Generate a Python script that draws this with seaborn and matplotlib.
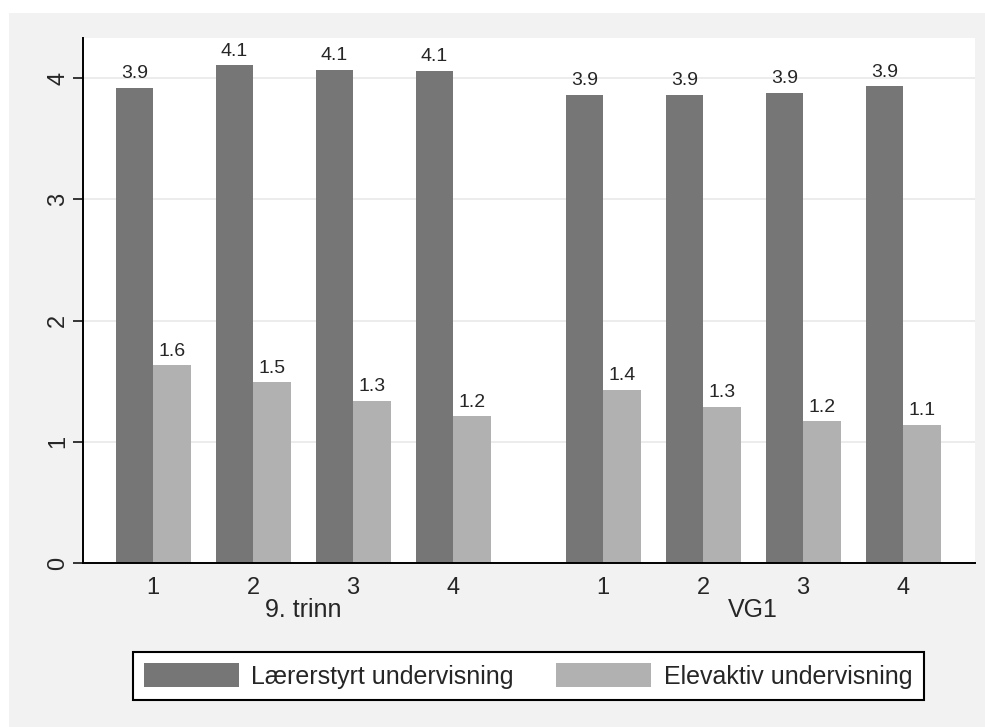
import numpy as np
import pandas as pd
import matplotlib
matplotlib.use('Agg')
import matplotlib.pyplot as plt
from matplotlib.patches import Patch, Rectangle
import seaborn as sns

# Data
grades = ['1', '2', '3', '4']
groups = ['9. trinn', 'VG1']
series = ['Lærerstyrt undervisning', 'Elevaktiv undervisning']
laererstyrt_9 = [3.92, 4.105, 4.07, 4.06]
elevaktiv_9 = [1.63, 1.49, 1.34, 1.21]
laererstyrt_vg1 = [3.86, 3.86, 3.88, 3.93]
elevaktiv_vg1 = [1.43, 1.29, 1.17, 1.14]

dark = '#767676'
light = '#b1b1b1'
bg = '#f2f2f2'

# Bygg long-format tabell; grupper skilles med et mellomrom på x-aksen
group_gap = 4.5
rows = []
values = {
    ('9. trinn', series[0]): laererstyrt_9,
    ('9. trinn', series[1]): elevaktiv_9,
    ('VG1', series[0]): laererstyrt_vg1,
    ('VG1', series[1]): elevaktiv_vg1,
}
for gi, grp in enumerate(groups):
    for s in series:
        for i, g in enumerate(grades):
            rows.append({'pos': gi * group_gap + i, 'grade': g, 'group': grp,
                         'type': s, 'value': values[(grp, s)][i]})
df = pd.DataFrame(rows)

sns.set_style('white')
plt.rcParams['font.family'] = ['Liberation Sans', 'DejaVu Sans']

fig = plt.figure(figsize=(9.85, 7.27), dpi=100)
fig.patch.set_facecolor('white')
# grå grafregion (som i Stata)
fig.patches.append(Rectangle((9 / 985, 0), 976 / 985, 714 / 727,
                             transform=fig.transFigure, facecolor=bg,
                             edgecolor='none', zorder=-10))

ax = fig.add_axes([83 / 985, 1 - 563 / 727, (975 - 83) / 985, (563 - 38) / 727])
ax.set_facecolor('white')

sns.barplot(data=df, x='pos', y='value', hue='type', hue_order=series,
            native_scale=True, palette=[dark, light], width=0.75,
            errorbar=None, saturation=1, linewidth=0, legend=False, ax=ax)

for cont in ax.containers:
    ax.bar_label(cont, fmt='%.1f', padding=4, fontsize=14)

ax.set_ylim(0, 4.33)
ax.set_xlim(-0.70, 8.22)
ax.set_yticks([0, 1, 2, 3, 4])
ax.yaxis.grid(True, color='#eaeaea', linewidth=1.3)
ax.set_axisbelow(True)

tick_pos = sorted(df['pos'].unique())
ax.set_xticks(tick_pos)
ax.set_xticklabels(grades * len(groups))
ax.tick_params(axis='x', length=0, pad=10, labelsize=17)
ax.tick_params(axis='y', length=7, width=1.3, pad=3, labelsize=17,
               labelrotation=90, left=True)
for lab in ax.get_yticklabels():
    lab.set_va('center')

ax.set_xlabel('')
ax.set_ylabel('')
for side in ['top', 'right']:
    ax.spines[side].set_visible(False)
for side in ['left', 'bottom']:
    ax.spines[side].set_color('black')
    ax.spines[side].set_linewidth(1.4)

# gruppeetiketter under tallene
for gi, grp in enumerate(groups):
    center = gi * group_gap + (len(grades) - 1) / 2
    ax.text(center, -47 / 525, grp, transform=ax.get_xaxis_transform(),
            ha='center', va='center', fontsize=18)

handles = [Patch(facecolor=dark, edgecolor='none'),
           Patch(facecolor=light, edgecolor='none')]
leg = fig.legend(handles, series, loc='center',
                 bbox_to_anchor=(528 / 985, 1 - 676 / 727), ncol=2,
                 frameon=True, fancybox=False, edgecolor='black',
                 facecolor='white', framealpha=1, fontsize=18,
                 handlelength=3.8, handleheight=1.05, columnspacing=1.7,
                 handletextpad=0.5, borderpad=0.45)
leg.get_frame().set_linewidth(1.5)

fig.savefig('out.png', dpi=100)
